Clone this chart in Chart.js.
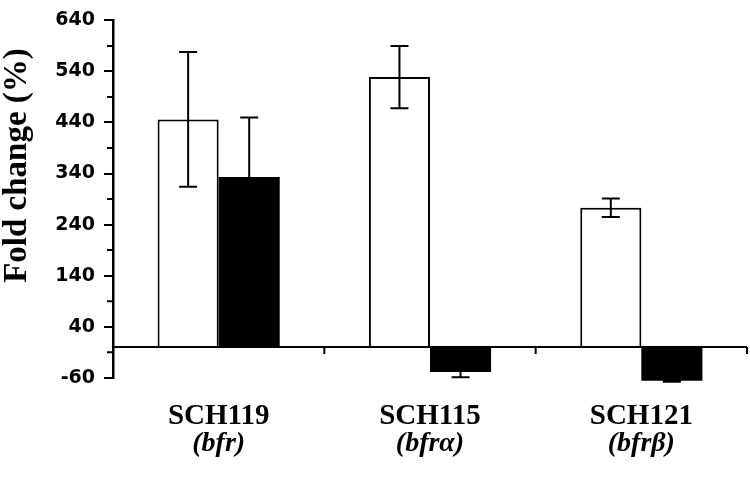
<!DOCTYPE html>
<html>
<head>
<meta charset="utf-8">
<script src="https://cdn.jsdelivr.net/npm/chart.js@4/dist/chart.umd.min.js"></script>
<style>
  html, body { margin: 0; padding: 0; background: #fff; }
  #wrap { width: 750px; height: 479px; position: relative; }
</style>
</head>
<body>
<div id="wrap"><canvas id="c" width="750" height="479"></canvas></div>
<script>
// ---- data ----
const categories = ['SCH119', 'SCH115', 'SCH121'];
const genes = ['(bfr)', '(bfrα)', '(bfrβ)'];
const whiteValues = [446, 529, 273];
const whiteErrors = [132, 61, 18];
const blackValues = [333, -49, -66];
const blackErrors = [117, 10, 2];
const yTicks = [-60, 40, 140, 240, 340, 440, 540, 640];
const yMinorTicks = [-10, 90, 190, 290, 390, 490, 590];
const yTitle = 'Fold change (%)';

const errorBars = {
  id: 'errorBars',
  afterDatasetsDraw(chart) {
    const ctx = chart.ctx;
    const y = chart.scales.y;
    ctx.save();
    ctx.strokeStyle = '#000';
    ctx.lineWidth = 2;
    chart.data.datasets.forEach((ds, di) => {
      const meta = chart.getDatasetMeta(di);
      meta.data.forEach((bar, i) => {
        const v = ds.data[i], e = ds.errors[i];
        const x = bar.x;
        const yt = y.getPixelForValue(v + e);
        const yb = y.getPixelForValue(v - e);
        const hw = 9;
        ctx.beginPath();
        ctx.moveTo(x, yt); ctx.lineTo(x, yb);
        ctx.moveTo(x - hw, yt); ctx.lineTo(x + hw, yt);
        ctx.moveTo(x - hw, yb); ctx.lineTo(x + hw, yb);
        ctx.stroke();
      });
    });
    ctx.restore();
  }
};

const axisExtras = {
  id: 'axisExtras',
  afterDraw(chart) {
    const ctx = chart.ctx;
    const y = chart.scales.y, x = chart.scales.x;
    const area = chart.chartArea;
    ctx.save();
    ctx.strokeStyle = '#000';
    // zero line
    const y0 = y.getPixelForValue(0);
    ctx.lineWidth = 2;
    ctx.beginPath();
    ctx.moveTo(area.left, y0); ctx.lineTo(area.right, y0);
    // category boundary ticks
    const n = categories.length;
    for (let i = 1; i <= n; i++) {
      const bx = (x.getPixelForValue(i - 1) + (i < n ? x.getPixelForValue(i) : 2 * x.getPixelForValue(i - 1) - x.getPixelForValue(i - 2))) / 2;
      ctx.moveTo(bx, y0); ctx.lineTo(bx, y0 + 7);
    }
    // minor y ticks
    yMinorTicks.forEach(v => {
      const py = y.getPixelForValue(v);
      ctx.moveTo(area.left - 6, py); ctx.lineTo(area.left, py);
    });
    ctx.stroke();
    // second line of category labels
    ctx.fillStyle = '#000';
    ctx.font = 'italic bold 28px "Liberation Serif"';
    ctx.textAlign = 'center';
    ctx.textBaseline = 'alphabetic';
    genes.forEach((g, i) => {
      ctx.fillText(g, x.getPixelForValue(i), 451);
    });
    // y axis title
    ctx.translate(17.5, 165.5);
    ctx.rotate(-Math.PI / 2);
    ctx.font = 'bold 33px "Liberation Serif"';
    ctx.textBaseline = 'middle';
    ctx.fillText(yTitle, 0, 0);
    ctx.restore();
  }
};

new Chart(document.getElementById('c'), {
  type: 'bar',
  data: {
    labels: categories,
    datasets: [
      { data: whiteValues, errors: whiteErrors, backgroundColor: '#fff', borderColor: '#000', borderWidth: 2, clip: false },
      { data: blackValues, errors: blackErrors, backgroundColor: '#000', borderColor: '#000', borderWidth: 0, clip: false }
    ]
  },
  options: {
    responsive: false,
    animation: false,
    devicePixelRatio: 1,
    layout: { padding: { top: 13, right: 3, left: 0, bottom: 0 } },
    plugins: { legend: { display: false }, tooltip: { enabled: false } },
    datasets: { bar: { categoryPercentage: 0.578, barPercentage: 1.0 } },
    scales: {
      x: {
        grid: { display: false },
        border: { display: false },
        ticks: {
          color: '#000',
          font: { family: 'Liberation Serif', weight: 'bold', size: 29, lineHeight: 1 },
          padding: 16,
          maxRotation: 0
        },
        afterFit(scale) { scale.height = 101.3; }
      },
      y: {
        min: -60,
        max: 640,
        afterBuildTicks(scale) { scale.ticks = yTicks.map(v => ({ value: v })); },
        grid: { drawOnChartArea: false, drawTicks: true, tickLength: 9, lineWidth: 2, color: '#000' },
        border: { display: true, width: 2.5, color: '#000' },
        ticks: {
          color: '#000',
          font: { family: 'DejaVu Sans', weight: 'bold', size: 19 },
          padding: 9
        },
        afterFit(scale) { scale.width = 113; }
      }
    }
  },
  plugins: [errorBars, axisExtras]
});
</script>
</body>
</html>
